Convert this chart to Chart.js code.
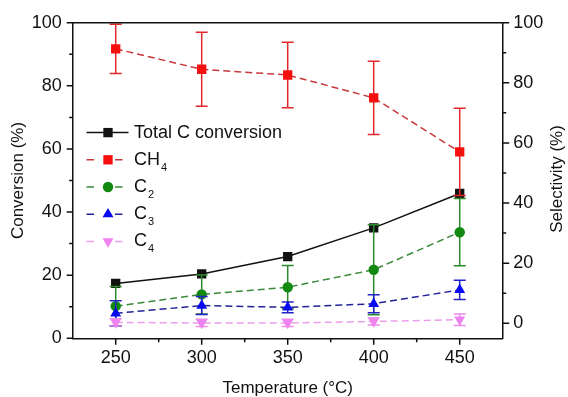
<!DOCTYPE html>
<html>
<head>
<meta charset="utf-8">
<script src="https://cdn.jsdelivr.net/npm/chart.js"></script>
<style>
  body { margin: 0; background: #fff; }
  #wrap { width: 568px; height: 397px; }
</style>
</head>
<body>
<div id="wrap"><canvas id="chart" width="568" height="397"></canvas></div>
<script>
// reaction temperature (°C)
const temps = [250, 300, 350, 400, 450];
// total carbon conversion (%), left axis
const totalC = [17.4, 20.4, 25.9, 35.0, 45.9];
// product selectivities (%), right axis, with error bar half-widths
const ch4 = [91.3, 84.5, 82.6, 75.0, 57.0];
const ch4Err = [8.2, 12.3, 10.9, 12.2, 14.5];
const c2 = [5.7, 9.6, 12.0, 17.8, 30.3];
const c2Err = [6.5, 6.5, 7.2, 15.0, 11.2];
const c3 = [3.3, 5.9, 5.3, 6.5, 11.1];
const c3Err = [4.2, 3.0, 1.8, 3.0, 3.2];
const c4 = [0.3, 0.1, 0.1, 0.6, 1.2];
const c4Err = [1.2, 1.2, 1.2, 1.2, 1.9];
// labelled ticks
const xTicks = [250, 300, 350, 400, 450];
const yTicks = [0, 20, 40, 60, 80, 100];

const FONT = '"Liberation Sans", Arial, sans-serif';

function pts(vals) {
    return temps.map(function (t, i) { return { x: t, y: vals[i] }; });
}

function drawMarker(ctx, style, rotation, r, x, y, color) {
    ctx.fillStyle = color;
    ctx.beginPath();
    if (style === 'rect') {
        var s = r * Math.SQRT1_2;
        ctx.rect(x - s, y - s, 2 * s, 2 * s);
    } else if (style === 'circle') {
        ctx.arc(x, y, r, 0, Math.PI * 2);
    } else {
        var rad = rotation * Math.PI / 180;
        for (var k = 0; k < 3; k++) {
            var a = rad + k * 2 * Math.PI / 3;
            if (k === 0) ctx.moveTo(x + Math.sin(a) * r, y - Math.cos(a) * r);
            else ctx.lineTo(x + Math.sin(a) * r, y - Math.cos(a) * r);
        }
        ctx.closePath();
    }
    ctx.fill();
}

// text with the digits set as subscripts (CH4 -> CH₄)
function drawLabel(ctx, text, x, y) {
    var parts = text.split(/(\d+)/);
    ctx.fillStyle = '#111';
    ctx.textBaseline = 'middle';
    ctx.textAlign = 'left';
    parts.forEach(function (p, i) {
        if (!p) return;
        if (i % 2 === 1) {
            ctx.font = '11px ' + FONT;
            ctx.fillText(p, x + 1, y + 8);
            x += ctx.measureText(p).width + 1;
        } else {
            ctx.font = '18px ' + FONT;
            ctx.fillText(p, x, y);
            x += ctx.measureText(p).width;
        }
    });
}

// vertical error bars, drawn under each series' own line and markers
const errorBars = {
    id: 'errorBars',
    beforeDatasetDraw(chart, args) {
        var ds = chart.data.datasets[args.index];
        if (!ds.errors) return;
        var ctx = chart.ctx;
        var xs = chart.scales.x, ys = chart.scales[ds.yAxisID];
        ctx.save();
        ctx.strokeStyle = ds.errorColor;
        ctx.lineWidth = 1.5;
        ds.data.forEach(function (p, i) {
            var x = xs.getPixelForValue(p.x);
            var top = ys.getPixelForValue(p.y + ds.errors[i]);
            var bot = ys.getPixelForValue(p.y - ds.errors[i]);
            ctx.beginPath();
            ctx.moveTo(x, top); ctx.lineTo(x, bot);
            ctx.moveTo(x - 6, top); ctx.lineTo(x + 6, top);
            ctx.moveTo(x - 6, bot); ctx.lineTo(x + 6, bot);
            ctx.stroke();
        });
        ctx.restore();
    }
};

// outward tick marks (long at labelled values, short between), top frame, right title, legend
const frame = {
    id: 'frame',
    afterDraw(chart) {
        var ctx = chart.ctx, a = chart.chartArea;
        ctx.save();
        ctx.strokeStyle = '#111';
        ctx.lineWidth = 1.5;
        ctx.beginPath();
        ctx.moveTo(a.left - 0.75, a.top); ctx.lineTo(a.right + 0.75, a.top);
        chart.scales.x.ticks.forEach(function (t) {
            if (t.value <= chart.scales.x.min || t.value >= chart.scales.x.max) return;
            var len = xTicks.includes(t.value) ? 6.5 : 4;
            var px = chart.scales.x.getPixelForValue(t.value);
            ctx.moveTo(px, a.bottom); ctx.lineTo(px, a.bottom + len);
        });
        chart.scales.y.ticks.forEach(function (t) {
            var len = yTicks.includes(t.value) ? 6 : 3.5;
            var py = chart.scales.y.getPixelForValue(t.value);
            ctx.moveTo(a.left, py); ctx.lineTo(a.left - len, py);
        });
        chart.scales.y1.ticks.forEach(function (t) {
            var len = yTicks.includes(t.value) ? 6.5 : 3.5;
            var py = chart.scales.y1.getPixelForValue(t.value);
            ctx.moveTo(a.right, py); ctx.lineTo(a.right + len, py);
        });
        ctx.stroke();

        // right axis title, reading bottom to top
        ctx.translate(557.5, 179);
        ctx.rotate(-Math.PI / 2);
        ctx.fillStyle = '#111';
        ctx.font = '17px ' + FONT;
        ctx.textAlign = 'center';
        ctx.textBaseline = 'middle';
        ctx.fillText('Selectivity (%)', 0, 0);
        ctx.restore();

        // legend
        chart.data.datasets.forEach(function (ds, i) {
            var y = 132.6 + i * 27.2;
            ctx.save();
            ctx.strokeStyle = ds.borderColor;
            ctx.lineWidth = 1.5;
            ctx.beginPath();
            if (ds.borderDash) {
                ctx.moveTo(86.5, y); ctx.lineTo(94, y);
                ctx.moveTo(115, y); ctx.lineTo(122.5, y);
            } else {
                ctx.moveTo(86.5, y); ctx.lineTo(128.5, y);
            }
            ctx.stroke();
            drawMarker(ctx, ds.pointStyle, ds.pointRotation || 0, ds.pointRadius, 108, y, ds.pointBackgroundColor);
            drawLabel(ctx, ds.label, 134, y);
            ctx.restore();
        });
    }
};

Chart.defaults.font.family = FONT;
Chart.defaults.color = '#111';

new Chart(document.getElementById('chart'), {
    type: 'line',
    data: {
        datasets: [{
            label: 'Total C conversion',
            data: pts(totalC),
            yAxisID: 'y',
            borderColor: '#111',
            borderWidth: 1.5,
            pointStyle: 'rect',
            pointRadius: 6.6,
            pointBorderWidth: 0,
            pointBackgroundColor: '#111',
            order: 5
        }, {
            label: 'CH4',
            data: pts(ch4),
            errors: ch4Err,
            errorColor: '#e3262b',
            yAxisID: 'y1',
            borderColor: '#c8393c',
            borderWidth: 1.5,
            borderDash: [7, 4],
            pointStyle: 'rect',
            pointRadius: 6.6,
            pointBorderWidth: 0,
            pointBackgroundColor: '#f50f0f',
            order: 4
        }, {
            label: 'C2',
            data: pts(c2),
            errors: c2Err,
            errorColor: '#2c8a2c',
            yAxisID: 'y1',
            borderColor: '#3a8a3a',
            borderWidth: 1.5,
            borderDash: [7, 4],
            pointStyle: 'circle',
            pointRadius: 5.2,
            pointBorderWidth: 0,
            pointBackgroundColor: '#128a12',
            order: 3
        }, {
            label: 'C3',
            data: pts(c3),
            errors: c3Err,
            errorColor: '#2222c8',
            yAxisID: 'y1',
            borderColor: '#22229a',
            borderWidth: 1.5,
            borderDash: [7, 4],
            pointStyle: 'triangle',
            pointRadius: 6.3,
            pointBorderWidth: 0,
            pointBackgroundColor: '#0a0af0',
            order: 2
        }, {
            label: 'C4',
            data: pts(c4),
            errors: c4Err,
            errorColor: '#ea8cea',
            yAxisID: 'y1',
            borderColor: '#eb9eeb',
            borderWidth: 1.5,
            borderDash: [7, 4],
            pointStyle: 'triangle',
            pointRotation: 180,
            pointRadius: 6.3,
            pointBorderWidth: 0,
            pointBackgroundColor: '#ee82ee',
            order: 1
        }]
    },
    options: {
        responsive: false,
        animation: false,
        layout: { padding: { top: 22.7, left: 0, right: 0, bottom: 0 } },
        plugins: { legend: { display: false }, tooltip: { enabled: false } },
        elements: { line: { tension: 0 } },
        scales: {
            x: {
                type: 'linear',
                min: 225,
                max: 475,
                afterFit: function (s) { s.height = 58.7; },
                ticks: {
                    stepSize: 25,
                    includeBounds: false,
                    autoSkip: false,
                    maxRotation: 0,
                    padding: 9,
                    font: { size: 18 },
                    callback: function (v) { return xTicks.includes(v) ? String(v) : ''; }
                },
                grid: { display: true, drawOnChartArea: false, drawTicks: false },
                border: { color: '#111', width: 1.5 },
                title: {
                    display: true,
                    text: 'Temperature (°C)',
                    font: { size: 17, lineHeight: 1 },
                    padding: { top: 0, bottom: 0 }
                }
            },
            y: {
                position: 'left',
                min: 0,
                max: 100,
                afterFit: function (s) { s.width = 72.7; },
                ticks: {
                    stepSize: 10,
                    autoSkip: false,
                    padding: 11,
                    font: { size: 18 },
                    callback: function (v) { return yTicks.includes(v) ? String(v) : ''; }
                },
                grid: { display: true, drawOnChartArea: false, drawTicks: false },
                border: { color: '#111', width: 1.5 },
                title: {
                    display: true,
                    text: 'Conversion (%)',
                    font: { size: 17, lineHeight: 1 },
                    padding: { top: 9.5, bottom: 0 }
                }
            },
            y1: {
                position: 'right',
                min: -5,
                max: 100,
                afterFit: function (s) { s.width = 65.3; },
                ticks: {
                    stepSize: 10,
                    includeBounds: false,
                    autoSkip: false,
                    padding: 10.5,
                    font: { size: 18 },
                    callback: function (v) { return yTicks.includes(v) ? String(v) : ''; }
                },
                grid: { display: true, drawOnChartArea: false, drawTicks: false },
                border: { color: '#111', width: 1.5 }
            }
        }
    },
    plugins: [errorBars, frame]
});
</script>
</body>
</html>
